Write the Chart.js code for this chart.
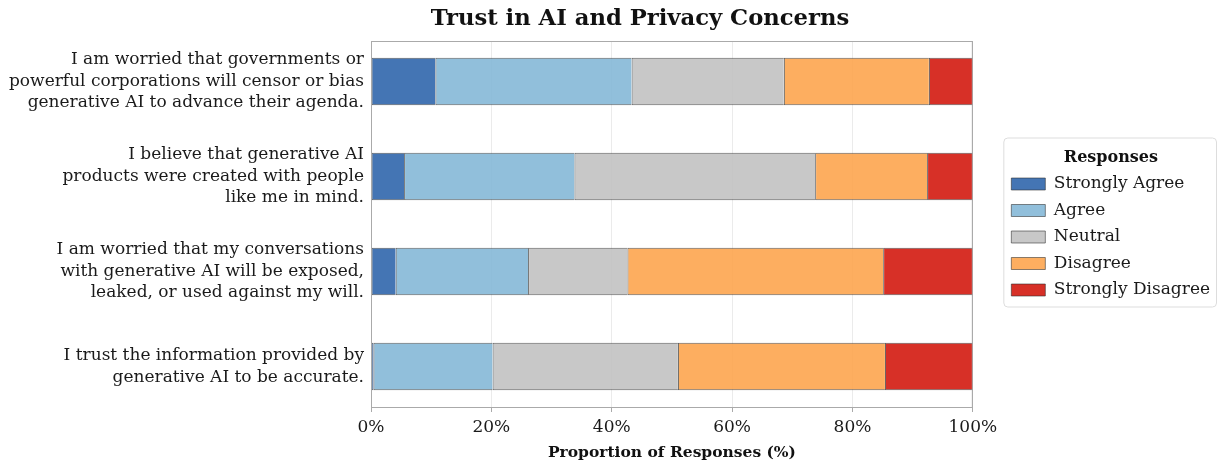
<!DOCTYPE html>
<html>
<head>
<meta charset="utf-8">
<script src="https://cdn.jsdelivr.net/npm/chart.js@4.4.1/dist/chart.umd.min.js"></script>
<style>
  html, body { margin: 0; padding: 0; background: #fff; }
  #wrap { width: 1218px; height: 465px; }
</style>
</head>
<body>
<div id="wrap"><canvas id="trustChart" width="1218" height="465"></canvas></div>
<script>
// preguntas (una linea por renglon)
var questions = [
    ['I am worried that governments or', 'powerful corporations will censor or bias', 'generative AI to advance their agenda.'],
    ['I believe that generative AI', 'products were created with people', 'like me in mind.'],
    ['I am worried that my conversations', 'with generative AI will be exposed,', 'leaked, or used against my will.'],
    ['I trust the information provided by', 'generative AI to be accurate.']
];
var responses = ['Strongly Agree', 'Agree', 'Neutral', 'Disagree', 'Strongly Disagree'];

// porcentajes por pregunta
var stronglyAgree    = [10.7,  5.5,  4.1,  0.4];
var agree            = [32.6, 28.3, 22.0, 19.8];
var neutral          = [25.3, 40.0, 16.5, 30.8];
var disagree         = [24.1, 18.6, 42.5, 34.4];
var stronglyDisagree = [ 7.3,  7.6, 14.9, 14.6];

var xTicks = [0, 20, 40, 60, 80, 100];

var colores = ['rgba(48,102,172,0.9)', 'rgba(133,184,215,0.9)', 'rgba(194,194,194,0.9)', 'rgba(253,165,79,0.9)', 'rgba(211,25,15,0.9)'];
var series = [stronglyAgree, agree, neutral, disagree, stronglyDisagree];

Chart.defaults.font.family = '"DejaVu Serif", serif';
Chart.defaults.color = '#1a1a1a';

function toPoints(valores){
    return valores.map((v, i) => ({ x: v, y: i }));
}

// marco del area, titulo y marco de leyenda
var framePlugin = {
    id: 'frameAndTitle',
    afterLayout(chart){
        // mover la leyenda (separarla del grafico)
        let lg = chart.legend;
        if (lg) {
            lg.left += 29; lg.right += 29;
            lg.top -= 24; lg.bottom -= 24;
        }
    },
    afterDatasetsDraw(chart){
        let a = chart.chartArea;
        let c = chart.ctx;
        c.save();
        c.strokeStyle = '#aaaaaa';
        c.lineWidth = 1;
        c.strokeRect(a.left + 0.5, a.top + 0.5, a.right - a.left - 1, a.bottom - a.top);
        c.restore();
    },
    afterDraw(chart){
        let c = chart.ctx;
        c.save();
        c.font = 'bold 22.7px "DejaVu Serif", serif';
        c.fillStyle = '#111';
        c.textAlign = 'center';
        c.textBaseline = 'middle';
        c.fillText('Trust in AI and Privacy Concerns', 640, 19);

        let lg = chart.legend;
        if (lg && lg.legendHitBoxes && lg.legendHitBoxes.length) {
            let hb = lg.legendHitBoxes;
            let left = Math.min(...hb.map(h => h.left)) - 8;
            let right = 1217;
            let top = hb[0].top - 38;
            let bottom = hb[hb.length - 1].top + hb[hb.length - 1].height + 8;
            c.strokeStyle = '#dddddd';
            c.lineWidth = 1;
            c.beginPath();
            c.roundRect(left + 0.5, top + 0.5, right - left - 1, bottom - top, 4);
            c.stroke();
        }
        c.restore();
    }
};

var datasets = responses.map((r, k) => ({
    label: r,
    data: toPoints(series[k]),
    backgroundColor: colores[k],
    borderColor: 'rgba(45, 45, 45, 0.75)',
    borderWidth: { top: 1, bottom: 1, left: 1, right: 0 },
    borderSkipped: false,
    barPercentage: 0.5,
    categoryPercentage: 1
}));

var ctx = document.getElementById('trustChart');

new Chart(ctx, {
    type: 'bar',
    data: { datasets: datasets },
    options: {
        indexAxis: 'y',
        responsive: false,
        animation: false,
        layout: { padding: { top: 41, right: 27, bottom: 0, left: 0 } },
        scales: {
            x: {
                stacked: true,
                min: 0,
                max: 100,
                afterBuildTicks: s => { s.ticks = xTicks.map(v => ({ value: v })); },
                ticks: {
                    callback: v => v + '%',
                    padding: 5,
                    font: { size: 17 },
                    color: '#1a1a1a'
                },
                grid: {
                    color: c => (c.tick && c.tick.value === 100) ? '#aaaaaa' : '#ebebeb',
                    tickColor: '#aaaaaa',
                    tickLength: 5
                },
                border: { color: '#aaaaaa' },
                title: {
                    display: true,
                    text: 'Proportion of Responses (%)',
                    font: { size: 15.5, weight: 'bold' },
                    color: '#111',
                    padding: { top: 2, bottom: 3 }
                },
                afterFit: s => { s.height = 58; }
            },
            y: {
                type: 'linear',
                stacked: true,
                reverse: true,
                offset: false,
                min: -0.425,
                max: 3.425,
                bounds: 'data',
                afterBuildTicks: s => { s.ticks = questions.map((q, i) => ({ value: i })); },
                ticks: {
                    autoSkip: false,
                    callback: v => questions[v] || '',
                    padding: 7,
                    font: { size: 17, lineHeight: 1.265 },
                    color: '#1a1a1a'
                },
                grid: { display: false, drawTicks: false, offset: false },
                border: { color: '#aaaaaa' },
                afterFit: s => { s.width = 371; }
            }
        },
        plugins: {
            legend: {
                position: 'right',
                align: 'center',
                title: {
                    display: true,
                    text: 'Responses',
                    color: '#111',
                    font: { size: 16, weight: 'bold', lineHeight: 1 },
                    padding: { top: 0, bottom: 0 }
                },
                labels: {
                    boxWidth: 34,
                    boxHeight: 12,
                    padding: 9.5,
                    font: { size: 17 },
                    color: '#1a1a1a'
                }
            },
            tooltip: { enabled: false }
        }
    },
    plugins: [framePlugin]
});
</script>
</body>
</html>
